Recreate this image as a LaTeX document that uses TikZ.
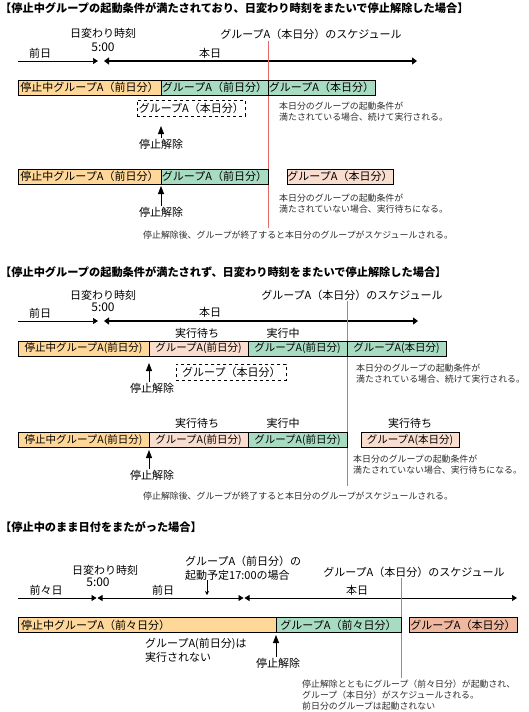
\documentclass[tikz,border=0pt]{standalone}
\usepackage{fontspec}
\setmainfont{Noto Sans CJK JP}
\usetikzlibrary{positioning,arrows.meta}
\definecolor{grOrange}{RGB}{255,216,153}
\definecolor{grGreen}{RGB}{168,220,194}
\definecolor{grPink}{RGB}{249,221,207}
\definecolor{grSalmon}{RGB}{241,184,160}
\definecolor{schRed}{RGB}{228,105,105}
\definecolor{noteGray}{RGB}{45,45,45}

\begin{document}
\begin{tikzpicture}[x=1pt, y=-1pt, font=\fontsize{11}{13.5}\selectfont,
  bar/.style={draw, line width=0.8pt, minimum height=15pt, inner sep=0pt, outer sep=0pt, anchor=west},
  dashbox/.style={draw, dashed, line width=0.7pt, minimum height=16pt, inner sep=0pt, anchor=west, fill=white},
  head/.style={font=\fontsize{11.2}{13}\selectfont\bfseries, anchor=west, inner sep=0pt},
  note/.style={font=\fontsize{8.9}{10.8}\selectfont, text=noteGray, align=left, anchor=north west, inner sep=0pt},
  lbl/.style={inner sep=1pt},
  time/.style={inner sep=1pt, font=\fontsize{12}{13}\selectfont},
  tline/.style={line width=0.7pt, -{Triangle[length=5pt,width=6pt]}},
  today/.style={line width=2pt, {Triangle[length=5pt,width=7pt]}-{Triangle[length=5pt,width=7pt]}},
  release/.style={line width=0.8pt, -{Triangle[length=8pt,width=6pt]}},
  sched/.style={draw=schRed, line width=0.8pt}]
\useasboundingbox (0,0) rectangle (528,712);

% case 1
\node[head] (h1) at (0,8) {【停止中グループの起動条件が満たされており、日変わり時刻をまたいで停止解除した場合】};
\node[lbl] (chg1) at (103,33) {日変わり時刻};
\node[time] (five1) at (103,47) {5:00};
\node[lbl] (prev1) at (40,53) {前日};
\node[lbl] (cur1) at (210,53) {本日};
\node[lbl] (sch1) at (311,34) {グループA（本日分）のスケジュール};
\coordinate (t1a) at (18,61);
\coordinate (t1b) at (98,61);
\coordinate (t1c) at (104,61);
\coordinate (t1d) at (417,61);
\draw[tline] (t1a) -- (t1b);
\draw[today] (t1c) -- (t1d);
\coordinate (s1top) at (268,41);
\coordinate (s1bot) at (268,228);
\draw[sched] (s1top) -- (s1bot);

\node[bar, fill=grOrange, minimum width=143pt] (c1a) at (18,87.5) {停止中グループA（前日分）};
\node[bar, fill=grGreen, minimum width=107pt, right=0pt of c1a] (c1b) {グループA（前日分）};
\node[bar, fill=grGreen, minimum width=107pt, right=0pt of c1b] (c1c) {グループA（本日分）};
\node[dashbox, minimum width=108pt] (c1d) at (137,108) {グループA（本日分）};
\node[lbl] (rel1) at (161,144) {停止解除};
\coordinate (rel1tip) at (161,126);
\draw[release] (rel1) -- (rel1tip);
\node[note] (n1a) at (279,102) {本日分のグループの起動条件が\\満たされている場合、続けて実行される。};

\node[bar, fill=grOrange, minimum width=143pt] (c1e) at (18,176.5) {停止中グループA（前日分）};
\node[bar, fill=grGreen, minimum width=107pt, right=0pt of c1e] (c1f) {グループA（前日分）};
\node[bar, fill=grPink, minimum width=106pt] (c1g) at (287,176.5) {グループA（本日分）};
\node[lbl] (rel2) at (161,212) {停止解除};
\coordinate (rel2tip) at (161,186);
\draw[release] (rel2) -- (rel2tip);
\node[note] (n1b) at (279,194) {本日分のグループの起動条件が\\満たされていない場合、実行待ちになる。};
\node[note] (n1c) at (143,231) {停止解除後、グループが終了すると本日分のグループがスケジュールされる。};

% case 2
\node[head] (h2) at (0,272) {【停止中グループの起動条件が満たされず、日変わり時刻をまたいで停止解除した場合】};
\node[lbl] (chg2) at (103,295) {日変わり時刻};
\node[time] (five2) at (103,307) {5:00};
\node[lbl] (prev2) at (40,313) {前日};
\node[lbl] (cur2) at (210,312) {本日};
\node[lbl] (sch2) at (352,295) {グループA（本日分）のスケジュール};
\coordinate (t2a) at (18,321);
\coordinate (t2b) at (98,321);
\coordinate (t2c) at (104,321);
\coordinate (t2d) at (418,321);
\draw[tline] (t2a) -- (t2b);
\draw[today] (t2c) -- (t2d);
\coordinate (s2top) at (347,301);
\coordinate (s2bot) at (347,486);
\draw[sched] (s2top) -- (s2bot);

\node[lbl] (wait1) at (197,333) {実行待ち};
\node[lbl] (run1) at (283,333) {実行中};
\begin{scope}[font=\fontsize{10.5}{12}\selectfont]
\node[bar, fill=grOrange, minimum width=131pt] (c2a) at (18,348.5) {停止中グループA(前日分)};
\node[bar, fill=grPink, minimum width=99pt, right=0pt of c2a] (c2b) {グループA(前日分)};
\node[bar, fill=grGreen, minimum width=99pt, right=0pt of c2b] (c2c) {グループA(前日分)};
\node[bar, fill=grGreen, minimum width=99pt, right=0pt of c2c] (c2d) {グループA(本日分)};
\end{scope}
\node[dashbox, minimum width=110pt] (c2e) at (176,372) {グループ（本日分）};
\node[lbl] (rel3) at (152,388) {停止解除};
\coordinate (rel3tip) at (149,363);
\draw[release] (rel3.north -| rel3tip) -- (rel3tip);
\node[note] (n2a) at (356,364) {本日分のグループの起動条件が\\満たされている場合、続けて実行される。};

\node[lbl] (wait2) at (197,423) {実行待ち};
\node[lbl] (run2) at (283,423) {実行中};
\node[lbl] (wait3) at (410,423) {実行待ち};
\begin{scope}[font=\fontsize{10.5}{12}\selectfont]
\node[bar, fill=grOrange, minimum width=131pt] (c2f) at (18,440) {停止中グループA(前日分)};
\node[bar, fill=grPink, minimum width=99pt, right=0pt of c2f] (c2g) {グループA(前日分)};
\node[bar, fill=grGreen, minimum width=99pt, right=0pt of c2g] (c2h) {グループA(前日分)};
\node[bar, fill=grPink, minimum width=98pt] (c2i) at (361,440) {グループA(本日分)};
\end{scope}
\node[lbl] (rel4) at (152,475) {停止解除};
\coordinate (rel4tip) at (149,450);
\draw[release] (rel4.north -| rel4tip) -- (rel4tip);
\node[note] (n2b) at (353,455) {本日分のグループの起動条件が\\満たされていない場合、実行待ちになる。};
\node[note] (n2c) at (143,492) {停止解除後、グループが終了すると本日分のグループがスケジュールされる。};

% case 3
\node[head] (h3) at (0,527) {【停止中のまま日付をまたがった場合】};
\node[lbl] (chg3) at (105,570) {日変わり時刻};
\node[time] (five3) at (98,582) {5:00};
\node[lbl] (prev3) at (46,590) {前々日};
\node[lbl] (cur3a) at (163,590) {前日};
\node[lbl] (cur3b) at (357,590) {本日};
\node[lbl] (sch3) at (414,572) {グループA（本日分）のスケジュール};
\node[lbl, align=left, anchor=north west, inner sep=0pt] (plan) at (185,556) {グループA（前日分）の\\起動予定17:00の場合};
\coordinate (d17) at (207,595);
\draw[line width=0.6pt, -{Stealth[length=4pt,width=4pt]}] (plan.south -| d17) -- (d17);
\coordinate (t3a) at (18,598);
\coordinate (t3b) at (96.5,598);
\coordinate (t3c) at (97.5,598);
\coordinate (t3d) at (243.5,598);
\coordinate (t3e) at (244.5,598);
\coordinate (t3f) at (517,598);
\draw[tline] (t3a) -- (t3b);
\draw[tline, {Triangle[length=5pt,width=6pt]}-{Triangle[length=5pt,width=6pt]}] (t3c) -- (t3d);
\draw[tline, {Triangle[length=5pt,width=6pt]}-{Triangle[length=5pt,width=6pt]}] (t3e) -- (t3f);
\coordinate (s3top) at (401,578);
\coordinate (s3bot) at (401,678);
\draw[sched] (s3top) -- (s3bot);

\node[bar, fill=grOrange, minimum width=258pt, text width=252pt, align=left] (c3a) at (18,625) {停止中グループA（前々日分）};
\node[bar, fill=grGreen, minimum width=125pt, right=0pt of c3a] (c3b) {グループA（前々日分）};
\node[bar, fill=grSalmon, minimum width=108pt] (c3c) at (409,625) {グループA（本日分）};
\node[lbl, align=left, anchor=north west, inner sep=0pt] (skip) at (145,638) {グループA(前日分)は\\実行されない};
\node[lbl] (rel5) at (278,663) {停止解除};
\coordinate (rel5tip) at (276,635);
\draw[release] (rel5.north -| rel5tip) -- (rel5tip);
\node[note] (n3) at (302,680) {停止解除とともにグループ（前々日分）が起動され、\\グループ（本日分）がスケジュールされる。\\前日分のグループは起動されない};
\end{tikzpicture}
\end{document}
